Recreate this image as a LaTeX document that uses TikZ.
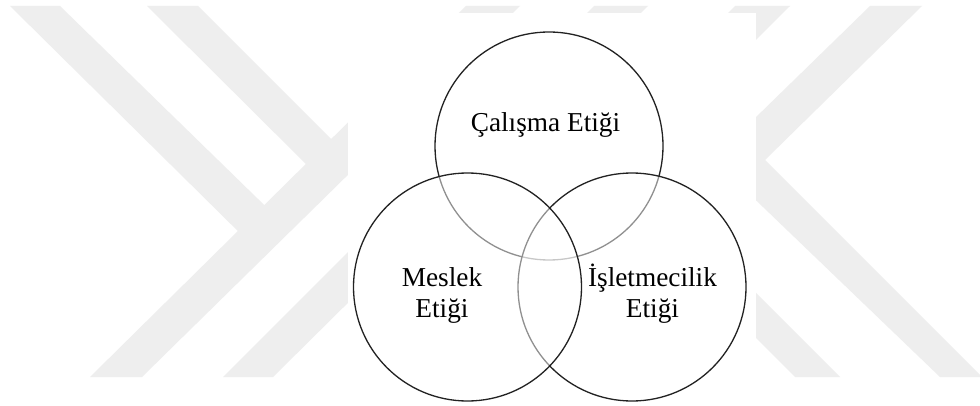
\documentclass[tikz,border=0pt]{standalone}
\usepackage{fontspec}
\setmainfont{Liberation Serif}
\definecolor{wm}{RGB}{238,238,238}
\definecolor{ink}{RGB}{34,34,34}
\begin{document}
\begin{tikzpicture}[x=1pt,y=-1pt,
  wmband/.style={fill=wm,draw=none},
  venn/.style={circle,draw=ink,line width=1.3pt,fill=white,fill opacity=0.5,minimum size=228pt,inner sep=0pt},
  lbl/.style={font=\fontsize{27.3}{31}\selectfont,inner sep=0pt,anchor=base,text=black}]
\useasboundingbox (0,0) rectangle (980,406);
\fill[white] (0,0) rectangle (980,406);
% watermark bands
\fill[wmband] (90,377)--(142,377)--(520,6)--(466,6)--cycle;
\fill[wmband] (10,6)--(60,6)--(277.5,218)--(251,244)--cycle;
\fill[wmband] (147,6)--(198,6)--(344,152)--(319,177)--cycle;
\fill[wmband] (223,377)--(273,377)--(648,6)--(594,6)--cycle;
\fill[wmband] (870,6)--(922,6)--(765,160)--(982,377)--(940,377)--(713,159)--cycle;
\fill[wmband] (735,6)--(790,6)--(629,166)--(840,377)--(795,377)--(580,162)--cycle;
% white panel
\fill[white] (348,13) rectangle (756,406);
% circles
\node[venn] (work) at (549,146) {};
\node[venn] (biz) at (632,287) {};
\node[venn] (prof) at (467.5,287) {};
% labels
\node[lbl] (workT) at (545.5,132) {Çalışma Etiği};
\node[lbl] (profT1) at (442,286) {Meslek};
\node[lbl] (profT2) at (442,317) {Etiği};
\node[lbl] (bizT1) at (652.5,286) {İşletmecilik};
\node[lbl] (bizT2) at (652.5,317) {Etiği};
\end{tikzpicture}
\end{document}
